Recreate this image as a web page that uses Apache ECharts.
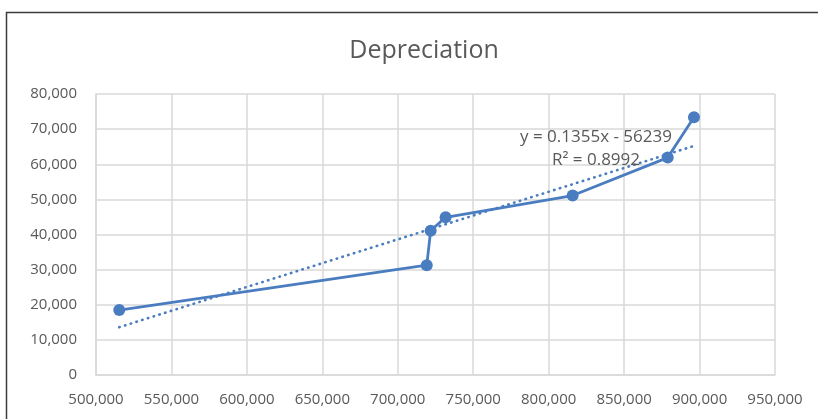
<!DOCTYPE html>
<html>
<head>
<meta charset="utf-8">
<script src="https://cdn.jsdelivr.net/npm/echarts@6/dist/echarts.min.js"></script>
<style>
  html, body { margin: 0; padding: 0; background: #fff; }
  #chart { width: 818px; height: 419px; }
</style>
</head>
<body>
<div id="chart"></div>
<script>
// Asset value vs. accumulated depreciation
const assetValue = [515400, 719200, 721800, 731700, 815900, 878900, 896300];
const depreciation = [18500, 31250, 41100, 44900, 51100, 61900, 73400];

// Linear trendline as stated in the label
const trendSlope = 0.1355;
const trendIntercept = -56239;
const trendR2 = 0.8992;

const xTicks = { min: 500000, max: 950000, interval: 50000 };
const yTicks = { min: 0, max: 80000, interval: 10000 };

const points = assetValue.map((x, i) => [x, depreciation[i]]);
const xFirst = Math.min(...assetValue);
const xLast = Math.max(...assetValue);
const trendPoints = [
  [xFirst, trendSlope * xFirst + trendIntercept],
  [xLast, trendSlope * xLast + trendIntercept]
];

const fmt = v => v.toLocaleString('en-US');
const blue = '#4a7dc0';
const textGrey = '#595959';
const gridGrey = '#d9d9d9';
const font = 'Open Sans';

const chart = echarts.init(document.getElementById('chart'), null, { renderer: 'canvas' });
chart.setOption({
  animation: false,
  backgroundColor: '#fff',
  title: {
    text: 'Depreciation',
    left: 419, top: 33, textAlign: 'center',
    textStyle: { fontFamily: font, fontSize: 25, fontWeight: 'normal', color: textGrey }
  },
  grid: { left: 96, right: 43, top: 94, bottom: 44 },
  xAxis: {
    type: 'value', min: xTicks.min, max: xTicks.max, interval: xTicks.interval,
    axisLine: { show: true, lineStyle: { color: gridGrey, width: 1.5 } },
    axisTick: { show: false },
    splitLine: { show: true, lineStyle: { color: gridGrey, width: 1.5 } },
    axisLabel: { margin: 17, color: textGrey, fontFamily: font, fontSize: 15, formatter: fmt }
  },
  yAxis: {
    type: 'value', min: yTicks.min, max: yTicks.max, interval: yTicks.interval,
    axisLine: { show: true, lineStyle: { color: gridGrey, width: 1.5 } },
    axisTick: { show: false },
    splitLine: { show: true, lineStyle: { color: gridGrey, width: 1.5 } },
    axisLabel: { margin: 19, color: textGrey, fontFamily: font, fontSize: 15, formatter: fmt }
  },
  series: [
    {
      type: 'line', data: trendPoints, symbol: 'none', z: 2,
      lineStyle: { color: blue, width: 2.6, type: [0.5, 5.5], cap: 'round' }
    },
    {
      type: 'line', data: points, symbol: 'circle', symbolSize: 12, z: 3,
      itemStyle: { color: blue },
      lineStyle: { color: blue, width: 2.8 }
    }
  ],
  graphic: [
    {
      type: 'rect', silent: true, z: 10,
      shape: { x: 6.5, y: 12.5, width: 1000, height: 1000 },
      style: { fill: null, stroke: '#3c3c3c', lineWidth: 1.5 }
    },
    {
      type: 'text', z: 10, x: 596, y: 137,
      style: {
        text: 'y = ' + trendSlope + 'x - ' + Math.abs(trendIntercept),
        fontFamily: font, fontSize: 17, fill: textGrey, align: 'center', verticalAlign: 'middle'
      }
    },
    {
      type: 'text', z: 10, x: 596, y: 160,
      style: {
        text: 'R² = ' + trendR2,
        fontFamily: font, fontSize: 17, fill: textGrey, align: 'center', verticalAlign: 'middle'
      }
    }
  ]
});
</script>
</body>
</html>
